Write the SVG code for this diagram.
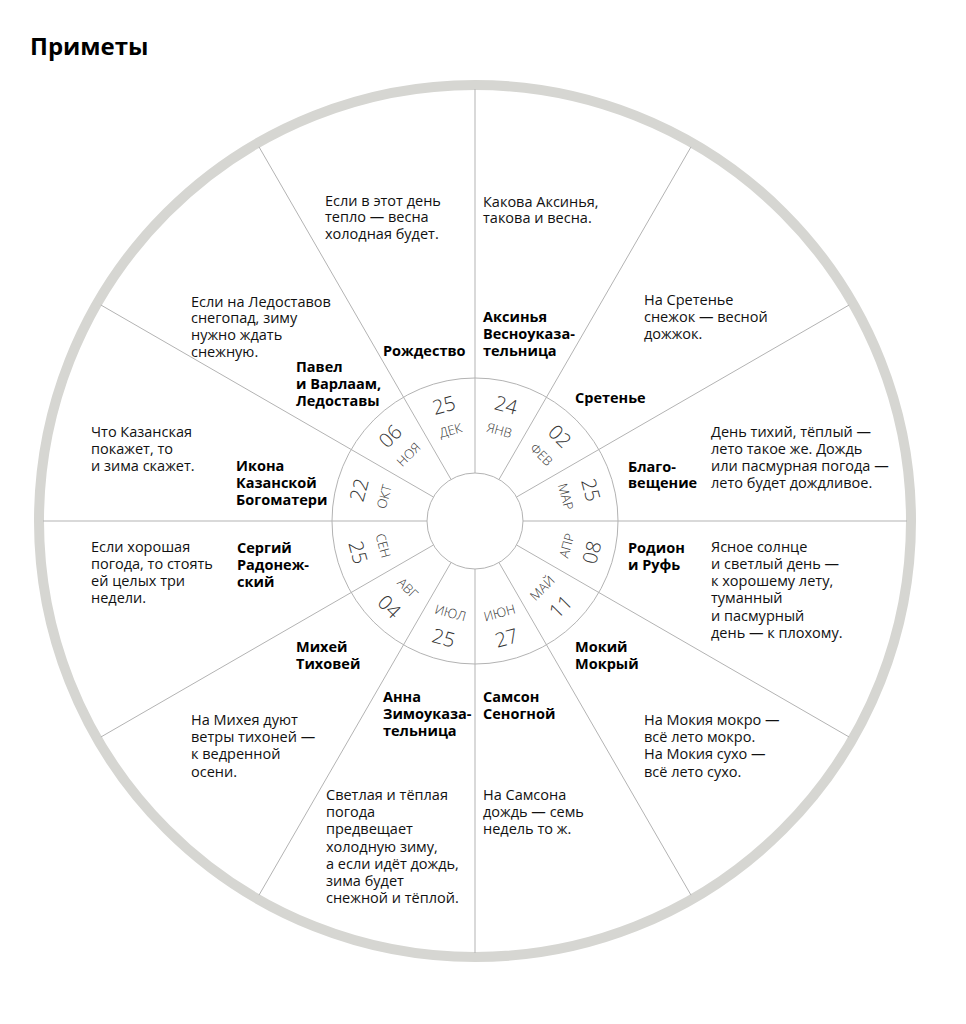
<svg xmlns="http://www.w3.org/2000/svg" width="966" height="1024" viewBox="0 0 966 1024">
<style>
.t{font-family:"Open Sans","Liberation Sans",sans-serif;font-size:14.5px;fill:#111}
.b{font-family:"Open Sans","Liberation Sans",sans-serif;font-size:14.5px;font-weight:700;fill:#000}
.n{font-family:"Open Sans","Lato","Liberation Sans",sans-serif;font-size:20px;font-weight:300;fill:#333;text-anchor:middle}
.m{font-family:"Open Sans","Lato","Liberation Sans",sans-serif;font-size:13px;font-weight:300;fill:#333;text-anchor:middle}
.ln{stroke:#b3b3b3;stroke-width:1;fill:none}
</style>
<rect width="966" height="1024" fill="#fff"/>
<text x="30" y="55" style="font-family:'Open Sans','Liberation Sans',sans-serif;font-size:24px;font-weight:700;fill:#000">Приметы</text>

<g id="wheel">
<circle cx="475" cy="521" r="436" fill="none" stroke="#d6d6d2" stroke-width="10"/>
<circle class="ln" cx="475" cy="521" r="143"/>
<circle class="ln" cx="475" cy="521" r="48"/>
</g>

<g id="connectors" class="ln">
<line x1="475" y1="473" x2="475" y2="89"/>
<line x1="499" y1="479.43" x2="691" y2="146.88"/>
<line x1="516.57" y1="497" x2="849.12" y2="305"/>
<line x1="523" y1="521" x2="907" y2="521"/>
<line x1="516.57" y1="545" x2="849.12" y2="737"/>
<line x1="499" y1="562.57" x2="691" y2="895.12"/>
<line x1="475" y1="569" x2="475" y2="953"/>
<line x1="451" y1="562.57" x2="259" y2="895.12"/>
<line x1="433.43" y1="545" x2="100.88" y2="737"/>
<line x1="427" y1="521" x2="43" y2="521"/>
<line x1="433.43" y1="497" x2="100.88" y2="305"/>
<line x1="451" y1="479.43" x2="259" y2="146.88"/>
</g>

<g id="dates">
<g transform="translate(475,521) rotate(15)"><text class="n" y="-112.8">24</text><text class="m" y="-89.3">ЯНВ</text></g>
<g transform="translate(475,521) rotate(45)"><text class="n" y="-112.8">02</text><text class="m" y="-89.3">ФЕВ</text></g>
<g transform="translate(475,521) rotate(75)"><text class="n" y="-112.8">25</text><text class="m" y="-89.3">МАР</text></g>
<g transform="translate(475,521) rotate(-75)"><text class="n" y="-112.8">22</text><text class="m" y="-89.3">ОКТ</text></g>
<g transform="translate(475,521) rotate(-45)"><text class="n" y="-112.8">06</text><text class="m" y="-89.3">НОЯ</text></g>
<g transform="translate(475,521) rotate(-15)"><text class="n" y="-112.8">25</text><text class="m" y="-89.3">ДЕК</text></g>
<g transform="translate(475,521) rotate(-75)"><text class="m" y="99.7">АПР</text><text class="n" y="128.2">08</text></g>
<g transform="translate(475,521) rotate(-45)"><text class="m" y="99.7">МАЙ</text><text class="n" y="128.2">11</text></g>
<g transform="translate(475,521) rotate(-15)"><text class="m" y="99.7">ИЮН</text><text class="n" y="128.2">27</text></g>
<g transform="translate(475,521) rotate(15)"><text class="m" y="99.7">ИЮЛ</text><text class="n" y="128.2">25</text></g>
<g transform="translate(475,521) rotate(45)"><text class="m" y="99.7">АВГ</text><text class="n" y="128.2">04</text></g>
<g transform="translate(475,521) rotate(75)"><text class="m" y="99.7">СЕН</text><text class="n" y="128.2">25</text></g>
</g>

<g id="dec">
<text class="t" y="205.5"><tspan x="325">Если в этот день</tspan><tspan x="325" dy="16.8">тепло — весна</tspan><tspan x="325" dy="16.8">холодная будет.</tspan></text>
<text class="b" y="355.5"><tspan x="383">Рождество</tspan></text>
</g>
<g id="jan">
<text class="t" y="206.5"><tspan x="483">Какова Аксинья,</tspan><tspan x="483" dy="16.8">такова и весна.</tspan></text>
<text class="b" y="321.5"><tspan x="483">Аксинья</tspan><tspan x="483" dy="17.2">Весноуказа-</tspan><tspan x="483" dy="17.2">тельница</tspan></text>
</g>
<g id="nov">
<text class="t" y="306.5"><tspan x="191">Если на Ледоставов</tspan><tspan x="191" dy="16.8">снегопад, зиму</tspan><tspan x="191" dy="16.8">нужно ждать</tspan><tspan x="191" dy="16.8">снежную.</tspan></text>
<text class="b" y="372"><tspan x="296">Павел</tspan><tspan x="296" dy="16.8">и Варлаам,</tspan><tspan x="296" dy="16.8">Ледоставы</tspan></text>
</g>
<g id="feb">
<text class="t" y="305"><tspan x="644">На Сретенье</tspan><tspan x="644" dy="17">снежок — весной</tspan><tspan x="644" dy="17">дожжок.</tspan></text>
<text class="b" y="403"><tspan x="575">Сретенье</tspan></text>
</g>
<g id="oct">
<text class="t" y="437"><tspan x="91">Что Казанская</tspan><tspan x="91" dy="16.9">покажет, то</tspan><tspan x="91" dy="16.9">и зима скажет.</tspan></text>
<text class="b" y="471"><tspan x="236">Икона</tspan><tspan x="236" dy="17">Казанской</tspan><tspan x="236" dy="17">Богоматери</tspan></text>
</g>
<g id="mar">
<text class="t" y="437"><tspan x="711">День тихий, тёплый —</tspan><tspan x="711" dy="17">лето такое же. Дождь</tspan><tspan x="711" dy="17">или пасмурная погода —</tspan><tspan x="711" dy="17">лето будет дождливое.</tspan></text>
<text class="b" y="471.5"><tspan x="628">Благо-</tspan><tspan x="628" dy="16.8">вещение</tspan></text>
</g>
<g id="sep">
<text class="t" y="552"><tspan x="91">Если хорошая</tspan><tspan x="91" dy="17">погода, то стоять</tspan><tspan x="91" dy="17">ей целых три</tspan><tspan x="91" dy="17">недели.</tspan></text>
<text class="b" y="553"><tspan x="237">Сергий</tspan><tspan x="237" dy="17.2">Радонеж-</tspan><tspan x="237" dy="17.2">ский</tspan></text>
</g>
<g id="apr">
<text class="b" y="553"><tspan x="628">Родион</tspan><tspan x="628" dy="17.4">и Руфь</tspan></text>
<text class="t" y="551.5"><tspan x="711">Ясное солнце</tspan><tspan x="711" dy="17.3">и светлый день —</tspan><tspan x="711" dy="17.3">к хорошему лету,</tspan><tspan x="711" dy="17.3">туманный</tspan><tspan x="711" dy="17.3">и пасмурный</tspan><tspan x="711" dy="17.3">день — к плохому.</tspan></text>
</g>
<g id="aug">
<text class="b" y="651.5"><tspan x="296">Михей</tspan><tspan x="296" dy="17.3">Тиховей</tspan></text>
<text class="t" y="725"><tspan x="191">На Михея дуют</tspan><tspan x="191" dy="17.2">ветры тихоней —</tspan><tspan x="191" dy="17.2">к ведренной</tspan><tspan x="191" dy="17.2">осени.</tspan></text>
</g>
<g id="may">
<text class="b" y="651.5"><tspan x="575">Мокий</tspan><tspan x="575" dy="17.3">Мокрый</tspan></text>
<text class="t" y="725"><tspan x="644">На Мокия мокро —</tspan><tspan x="644" dy="17.2">всё лето мокро.</tspan><tspan x="644" dy="17.2">На Мокия сухо —</tspan><tspan x="644" dy="17.2">всё лето сухо.</tspan></text>
</g>
<g id="jul">
<text class="b" y="701.5"><tspan x="383">Анна</tspan><tspan x="383" dy="17">Зимоуказа-</tspan><tspan x="383" dy="17">тельница</tspan></text>
<text class="t" y="800"><tspan x="326">Светлая и тёплая</tspan><tspan x="326" dy="17.2">погода</tspan><tspan x="326" dy="17.2">предвещает</tspan><tspan x="326" dy="17.2">холодную зиму,</tspan><tspan x="326" dy="17.2">а если идёт дождь,</tspan><tspan x="326" dy="17.2">зима будет</tspan><tspan x="326" dy="17.2">снежной и тёплой.</tspan></text>
</g>
<g id="jun">
<text class="b" y="701.5"><tspan x="483">Самсон</tspan><tspan x="483" dy="17.3">Сеногной</tspan></text>
<text class="t" y="800"><tspan x="483">На Самсона</tspan><tspan x="483" dy="17.2">дождь — семь</tspan><tspan x="483" dy="17.2">недель то ж.</tspan></text>
</g>
</svg>
